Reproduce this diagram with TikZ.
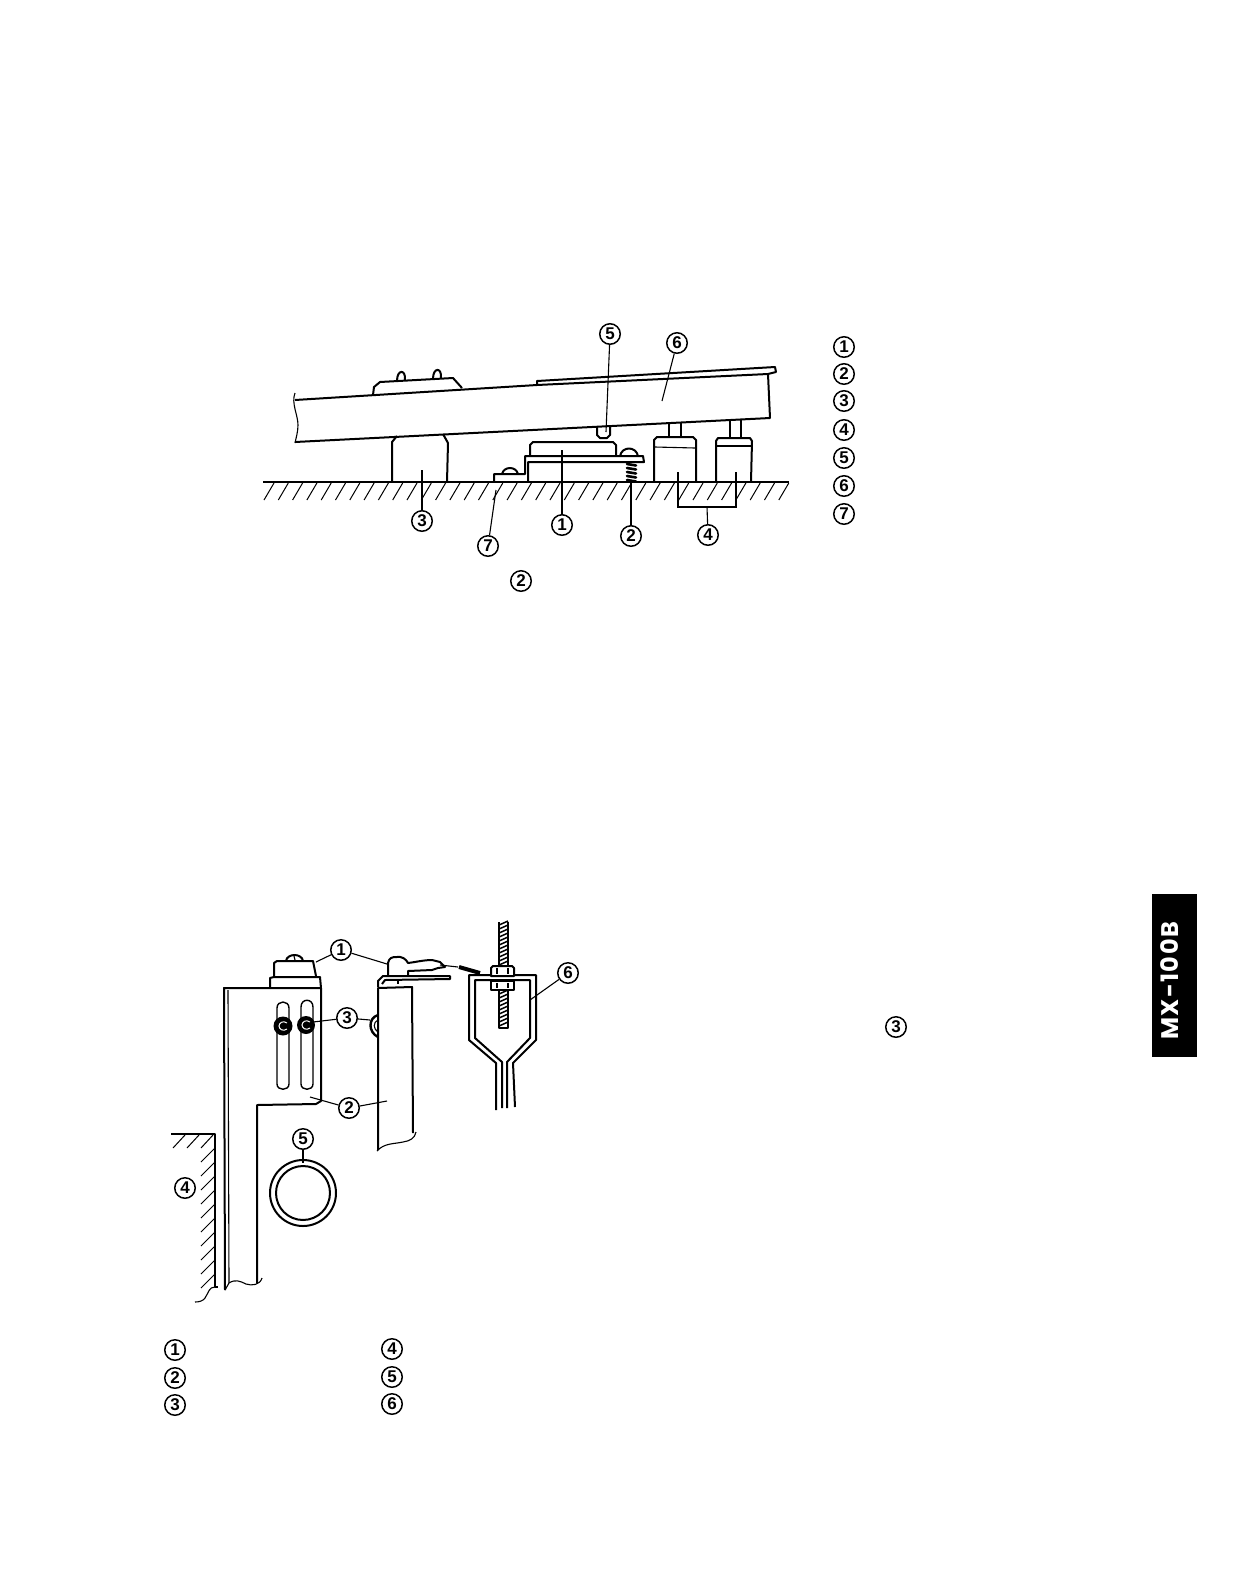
\documentclass[tikz,border=0pt]{standalone}
\usepackage{fontspec}
\setmainfont{Liberation Sans}
\newfontfamily\tabfont{Poppins}[LetterSpace=6]
\begin{document}
\begin{tikzpicture}[x=1pt,y=-1pt,
  lab/.style={circle,draw=black,line width=1.5pt,inner sep=0pt,minimum size=20.5pt,fill=white,font=\fontsize{17}{17}\selectfont\bfseries},
  part/.style={draw=black,line width=2pt,line join=round},
  fine/.style={draw=black,line width=1.1pt,line join=round},
  lead/.style={draw=black,line width=1.1pt},
  hatchline/.style={draw=black,line width=1pt},
  slotline/.style={draw=black,line width=1.4pt}]
\useasboundingbox (0,0) rectangle (1235,1591);
\fill[white] (0,0) rectangle (1235,1591);

% ===== upper figure =====
% ground
\draw[part,line width=2.2pt] (263,482) -- (789,482);
\foreach \i in {0,...,36} \draw[hatchline] ({264+14.3*\i},500) -- ({274+14.3*\i},483);
% beam
\draw[part] (295,400) -- (537,385) -- (768,374);
\draw[part] (537,385) -- (537,381) -- (775,367) -- (776,372) -- (768,374) -- (770,418) -- (295,442);
\draw[fine] (295,393) .. controls (291,403) and (298,415) .. (298,425) .. controls (298,432) and (296,438) .. (295,443);
\draw[part] (373,395) -- (374,387) -- (380,382) -- (453,378) -- (462,388);
\draw[part] (397,381) .. controls (397,369) and (406,369) .. (405,380);
\draw[part] (433,379) .. controls (433,367) and (442,367) .. (441,378);
% block 3
\draw[part] (392,482) -- (392,442) -- (397,436);
\draw[part] (447,482) -- (448,443) -- (443,434);
% bracket
\draw[part] (494,482) -- (494,474) -- (525,474) -- (525,456) -- (643,456) -- (644,462) -- (528,462) -- (528,482);
\draw[part] (502,474) .. controls (504,466) and (516,466) .. (518,474);
\draw[part] (530,455) -- (530,445) -- (533,442) -- (613,442) -- (616,445) -- (616,455);
\draw[part] (620,456) .. controls (622,446) and (636,446) .. (638,456);
% spring
\foreach \y in {464,468,472,476,480} \draw[draw=black,line width=2.6pt,line cap=round] (627,\y) -- (636,{\y+1.5});
% supports
\draw[part] (654,482) -- (654,440) -- (657,437) -- (693,437) -- (696,440) -- (696,482);
\draw[fine] (655,447) -- (695,448);
\draw[part] (669,424) -- (669,437) (681,423) -- (681,437);
\draw[part] (716,482) -- (716,441) -- (718,438) -- (750,438) -- (752,441) -- (751,482);
\draw[fine] (716,446) -- (752,446);
\draw[part] (730,421) -- (730,438) (741,420) -- (741,438);
% small part 5
\draw[part] (597,427) -- (597,435) -- (600,438) -- (607,438) -- (610,435) -- (610,426);

\node[lab] (u1) at (562,525) {1};
\node[lab] (u2) at (631,536) {2};
\node[lab] (u3) at (422,521) {3};
\node[lab] (u4) at (708,535) {4};
\node[lab] (u5) at (610,334) {5};
\node[lab] (u6) at (677,343) {6};
\node[lab] (u7) at (488,546) {7};
\node[lab] (u2b) at (521,581) {2};
\coordinate (p1) at (562,450);
\coordinate (p2) at (631,482);
\coordinate (p3) at (422,470);
\coordinate (p5) at (606,432);
\coordinate (p6) at (662,401);
\coordinate (p7) at (496,490);
\coordinate (b4a) at (678,472);
\coordinate (b4b) at (678,507);
\coordinate (b4m) at (707,507);
\coordinate (b4c) at (736,507);
\coordinate (b4d) at (736,472);
\draw[lead] (u1) -- (p1);
\draw[lead] (u2) -- (p2);
\draw[lead] (u3) -- (p3);
\draw[lead] (u5) -- (p5);
\draw[lead] (u6) -- (p6);
\draw[lead] (u7) -- (p7);
\draw[lead] (b4a) -- (b4b) -- (b4c) -- (b4d);
\draw[lead] (u4) -- (b4m);

% legend right
\foreach \n/\y in {1/347,2/374,3/401,4/430,5/458,6/486,7/514}
  \node[lab] (L\n) at (844,\y) {\n};
\node[lab] (m3) at (896,1027) {3};

% ===== lower figure =====
% plate
\draw[part] (225,1290) -- (224,988) -- (270,988);
\draw[fine] (229,1283) -- (228,990);
\draw[part] (270,988) -- (321,988) -- (321,1101) -- (316,1104) -- (257,1105) -- (257,1283);
\draw[fine] (225,1290) -- (229,1283) .. controls (235,1279) and (240,1281) .. (246,1284) .. controls (252,1286) and (260,1285) .. (262,1278);
% head
\draw[part] (270,988) -- (270,978) -- (274,977) -- (320,977) -- (321,988);
\draw[part] (274,977) -- (274,963) -- (277,961) -- (313,961) -- (316,976);
\draw[part] (286,961) .. controls (287,953) and (302,953) .. (303,961);
\draw[fine] (294,956) -- (295,960);
% slots
\draw[slotline] (277,1084) -- (277,1008) .. controls (277,1000) and (289,1000) .. (289,1008) -- (289,1084) .. controls (289,1091) and (277,1091) .. (277,1084);
\draw[slotline] (301,1084) -- (301,1007) .. controls (301,998) and (313,998) .. (313,1007) -- (313,1084) .. controls (313,1091) and (301,1091) .. (301,1084);
% screws
\fill[black] (283,1026) circle[radius=9.5];
\fill[black] (306,1025) circle[radius=9];
\draw[white,line width=1pt] (287,1023) .. controls (283,1020) and (279,1023) .. (279,1026) .. controls (279,1029) and (283,1032) .. (287,1029);
\draw[white,line width=1pt] (310,1022) .. controls (306,1019) and (302,1022) .. (302,1025) .. controls (302,1028) and (306,1031) .. (310,1028);
% post
\draw[part] (378,1150) -- (378,988) -- (412,987) -- (413,1133);
\draw[fine] (377,1151) .. controls (384,1143) and (394,1144) .. (403,1142) .. controls (410,1141) and (415,1138) .. (416,1132);
\draw[part,line width=2.4pt] (378,1015) .. controls (368,1018) and (368,1032) .. (378,1037);
\draw[fine] (378,1020) .. controls (373,1022) and (373,1029) .. (378,1032);
% terminal
\draw[part] (378,987) -- (378,981) -- (383,976) -- (450,976) -- (450,979) -- (385,980) -- (382,984);
\draw[part] (398,980) -- (398,984);
\draw[part] (388,975) -- (388,963) .. controls (389,958) and (392,957) .. (396,957) .. controls (402,956) and (406,959) .. (408,963) .. controls (416,962) and (424,960) .. (432,960) -- (440,962) -- (445,967) -- (438,968) -- (432,970) -- (408,971) -- (408,975);
\draw[fine] (440,965) -- (458,967);
\draw[draw=black,line width=4pt] (459,967) -- (480,973);
% U bracket
\draw[part] (496,1110) -- (496,1063) -- (469,1040) -- (469,975) -- (536,975) -- (536,1040) -- (513,1063) -- (515,1107);
\draw[part] (502,1108) -- (502,1062) -- (475,1038) -- (475,980) -- (530,980) -- (530,1038) -- (507,1062) -- (507,1108);
% threaded rod
\draw[fine] (499,922) -- (499,966) (508,922) -- (508,966) (499,990) -- (499,1028) -- (508,1028) -- (508,990);
\foreach \y in {925,929,...,965} \draw[draw=black,line width=1.5pt] (499,\y) -- (508,{\y-4});
\foreach \y in {994,998,...,1028} \draw[draw=black,line width=1.5pt] (499,\y) -- (508,{\y-4});
% nuts
\draw[part,fill=white] (491,968) -- (493,966) -- (512,966) -- (514,968) -- (514,976) -- (491,976) -- cycle;
\draw[part,fill=white] (491,981) -- (514,981) -- (514,990) -- (491,990) -- cycle;
\draw[fine] (497,968) -- (497,974) (508,968) -- (508,974) (497,983) -- (497,988) (508,983) -- (508,988);
% tube
\draw[part] (303,1193) circle[radius=33];
\draw[part] (303,1193) circle[radius=27];
% wall
\draw[part] (171,1134) -- (215,1134) -- (215,1287) -- (218,1287);
\draw[fine] (215,1287) .. controls (209,1287) and (209,1292) .. (205,1298) .. controls (203,1301) and (199,1302) .. (195,1302);
\foreach \x in {186,200,214} \draw[hatchline] ({\x-13},1148) -- ({\x-1},1135);
\foreach \y in {1148,1162,...,1274} \draw[hatchline] (201,{\y+14}) -- (215,\y);

\node[lab] (d1) at (341,950) {1};
\node[lab] (d2) at (349,1108) {2};
\node[lab] (d3) at (347,1018) {3};
\node[lab] (d4) at (185,1188) {4};
\node[lab] (d5) at (303,1139) {5};
\node[lab] (d6) at (568,973) {6};
\coordinate (q1a) at (316,962);
\coordinate (q1b) at (387,964);
\coordinate (q2a) at (310,1097);
\coordinate (q2b) at (387,1101);
\coordinate (q3a) at (313,1022);
\coordinate (q3b) at (370,1020);
\coordinate (q5) at (303,1163);
\coordinate (q6) at (530,1000);
\draw[lead] (d1) -- (q1a);
\draw[lead] (d1) -- (q1b);
\draw[lead] (d2) -- (q2a);
\draw[lead] (d2) -- (q2b);
\draw[lead] (d3) -- (q3a);
\draw[lead] (d3) -- (q3b);
\draw[lead] (d5) -- (q5);
\draw[lead] (d6) -- (q6);

% legend lower
\foreach \n/\y in {1/1350,2/1378,3/1405}
  \node[lab] (A\n) at (175,\y) {\n};
\foreach \n/\y in {4/1349,5/1377,6/1404}
  \node[lab] (A\n) at (392,\y) {\n};

% tab
\node[fill=black,minimum width=45pt,minimum height=163pt,inner sep=0pt] (tab) at (1174.5,975.5) {};
\node[rotate=90,text=white,font=\tabfont\bfseries\fontsize{24}{24}\selectfont,inner sep=0pt] (tabtext) at (1170,981) {MX-100B};
\end{tikzpicture}
\end{document}
